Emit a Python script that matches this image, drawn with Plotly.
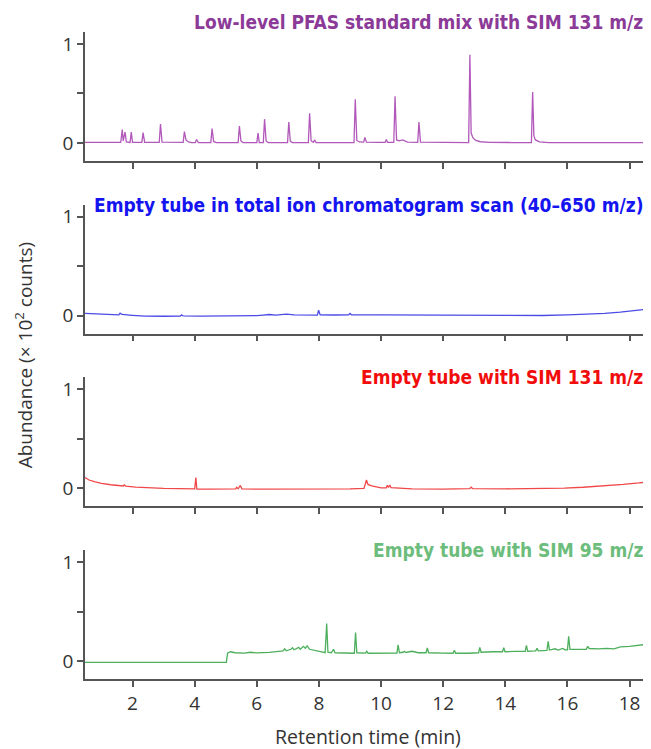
import plotly.graph_objects as go
from plotly.subplots import make_subplots

# retention time (min) / abundance (x 10^2 counts)
pfas_rt = [0.47, 0.90, 1.40, 1.62,
           1.67, 1.70, 1.76, 1.80,
           1.92, 1.96, 2.00,
           2.30, 2.34, 2.39,
           2.86, 2.90, 2.95,
           3.63, 3.67, 3.72, 3.80, 3.90,
           4.02, 4.06, 4.12,
           4.52, 4.56, 4.61, 4.70,
           5.40, 5.44, 5.49, 5.56,
           6.00, 6.04, 6.08,
           6.21, 6.25, 6.30, 6.37,
           6.99, 7.03, 7.08, 7.15,
           7.66, 7.70, 7.75, 7.82, 7.86, 7.91,
           8.40, 9.00, 9.13, 9.17, 9.22, 9.30, 9.44, 9.48, 9.53,
           9.90, 10.13, 10.17, 10.21,
           10.41, 10.45, 10.50, 10.58, 10.70, 10.85,
           11.18, 11.22, 11.27,
           12.00, 12.70, 12.82, 12.86, 12.90, 12.96, 13.05, 13.20, 13.50,
           14.20, 14.84, 14.88, 14.92, 14.97, 15.10, 15.40,
           16.20, 17.00, 17.80, 18.69]
pfas_abund = [0.005, 0.004, 0.003, 0.005,
              0.135, 0.02, 0.11, 0.01,
              0.005, 0.11, 0.005,
              0.005, 0.105, 0.005,
              0.005, 0.19, 0.008,
              0.005, 0.115, 0.03, 0.01, 0.003,
              0.003, 0.035, 0.003,
              0.003, 0.145, 0.015, 0.004,
              0.004, 0.17, 0.02, 0.004,
              0.004, 0.10, 0.004,
              0.004, 0.24, 0.02, 0.004,
              0.004, 0.21, 0.015, 0.004,
              0.004, 0.30, 0.02, 0.006, 0.03, 0.004,
              0.004, 0.005, 0.004, 0.44, 0.025, 0.01, 0.008, 0.055, 0.008,
              0.005, 0.005, 0.035, 0.005,
              0.005, 0.47, 0.03, 0.02, 0.03, 0.008,
              0.006, 0.21, 0.008,
              0.004, 0.004, 0.004, 0.89, 0.10, 0.05, 0.025, 0.012, 0.005,
              0.004, 0.004, 0.515, 0.07, 0.03, 0.01, 0.004,
              0.004, 0.004, 0.003, 0.003]

tic_rt = [0.47, 0.90, 1.40, 1.56, 1.60, 1.66, 2.00, 2.40, 3.00, 3.54, 3.58, 3.63,
          4.20, 5.00, 5.20, 5.70, 6.00, 6.20, 6.40, 6.60, 6.96, 7.20, 7.95, 7.99,
          8.04, 8.50, 8.96, 9.00, 9.05, 10.00, 11.00, 12.50, 13.50, 14.50, 15.20,
          16.00, 16.60, 17.20, 17.70, 18.20, 18.50, 18.69]
tic_abund = [0.024, 0.018, 0.010, 0.009, 0.025, 0.012, 0.003, -0.005, -0.006, -0.004, 0.008, -0.003,
             -0.004, -0.004, 0.000, -0.002, 0.000, 0.006, 0.012, 0.006, 0.016, 0.008, 0.006, 0.055,
             0.008, 0.007, 0.008, 0.022, 0.009, 0.008, 0.007, 0.005, 0.001, 0.000, 0.002,
             0.008, 0.014, 0.024, 0.035, 0.050, 0.064, 0.075]

sim131_rt = [0.47, 0.60, 0.80, 1.00, 1.30, 1.70, 1.73, 1.78, 2.10, 2.50, 3.00, 3.50,
             4.00, 4.04, 4.07, 4.50, 5.00, 5.32, 5.35, 5.40, 5.47, 5.52, 6.00, 7.00,
             8.00, 9.00, 9.45, 9.53, 9.58, 9.70, 9.85, 10.00, 10.17, 10.20, 10.24, 10.28,
             10.32, 10.60, 11.00, 12.00, 12.85, 12.90, 12.95, 14.00, 15.00, 15.90, 16.50,
             17.20, 17.80, 18.30, 18.69]
sim131_abund = [0.110, 0.085, 0.065, 0.050, 0.037, 0.025, 0.035, 0.024, 0.014, 0.006, 0.000, -0.003,
                -0.004, 0.110, -0.008, -0.008, -0.007, -0.005, 0.012, -0.004, 0.030, -0.004, -0.008, -0.008,
                -0.007, -0.004, 0.000, 0.085, 0.040, 0.025, 0.015, 0.006, 0.005, 0.032, 0.010, 0.035,
                0.008, 0.000, -0.005, -0.007, -0.003, 0.012, -0.003, -0.004, -0.002, 0.004, 0.012,
                0.025, 0.040, 0.055, 0.070]

sim95_rt = [0.47, 5.02, 5.06, 5.15, 5.30, 5.60, 5.80, 6.00, 6.40, 6.60, 6.85, 6.90,
            6.95, 7.10, 7.15, 7.20, 7.35, 7.40, 7.50, 7.56, 7.62, 7.70, 7.90, 8.10,
            8.20, 8.25, 8.29, 8.40, 8.47, 8.52, 8.80, 9.14, 9.18, 9.22, 9.50, 9.54,
            9.58, 10.00, 10.51, 10.55, 10.59, 10.71, 10.75, 10.80, 10.99, 11.20, 11.45, 11.49,
            11.53, 12.00, 12.32, 12.36, 12.40, 12.80, 13.14, 13.18, 13.22, 13.60, 13.91, 13.95,
            13.99, 14.30, 14.64, 14.68, 14.72, 14.98, 15.02, 15.06, 15.34, 15.38, 15.42, 15.60,
            15.70, 15.85, 15.92, 16.00, 16.04, 16.08, 16.30, 16.61, 16.65, 16.70, 17.00, 17.26,
            17.50, 17.70, 18.00, 18.30, 18.50, 18.69]
sim95_abund = [-0.012, -0.012, 0.080, 0.095, 0.085, 0.082, 0.090, 0.083, 0.088, 0.095, 0.105, 0.125,
               0.105, 0.120, 0.135, 0.115, 0.140, 0.120, 0.150, 0.130, 0.155, 0.120, 0.105, 0.090,
               0.085, 0.380, 0.090, 0.085, 0.120, 0.085, 0.080, 0.080, 0.290, 0.085, 0.082, 0.100,
               0.080, 0.080, 0.082, 0.165, 0.085, 0.090, 0.100, 0.088, 0.100, 0.085, 0.085, 0.135,
               0.085, 0.082, 0.080, 0.110, 0.080, 0.080, 0.085, 0.140, 0.090, 0.095, 0.095, 0.135,
               0.095, 0.098, 0.100, 0.160, 0.100, 0.105, 0.130, 0.105, 0.110, 0.200, 0.112, 0.125,
               0.112, 0.128, 0.115, 0.115, 0.250, 0.120, 0.120, 0.120, 0.150, 0.128, 0.125, 0.130,
               0.125, 0.145, 0.150, 0.160, 0.165, 0.175]

panel_titles = ["Low-level PFAS standard mix with SIM 131 m/z",
                "Empty tube in total ion chromatogram scan (40\u2013650 m/z)",
                "Empty tube with SIM 131 m/z",
                "Empty tube with SIM 95 m/z"]
x_ticks = [2, 4, 6, 8, 10, 12, 14, 16, 18]

series = [(pfas_rt, pfas_abund), (tic_rt, tic_abund),
          (sim131_rt, sim131_abund), (sim95_rt, sim95_abund)]
line_colors = ["#B158BA", "#4B4BE6", "#F04848", "#4DAF5C"]
title_colors = ["#8C3A98", "#1414F0", "#F20D0D", "#6CBD7B"]

fig = make_subplots(rows=4, cols=1, shared_xaxes=True, vertical_spacing=0.068)

for i, (rt, ab) in enumerate(series):
    fig.add_trace(go.Scatter(x=rt, y=ab, mode="lines",
                             line=dict(color=line_colors[i], width=1.3),
                             showlegend=False), row=i + 1, col=1)

axis_style = dict(showline=True, linecolor="#555", linewidth=1.5,
                  ticks="outside", ticklen=6, tickwidth=1.5, tickcolor="#555",
                  showgrid=False, zeroline=False,
                  tickfont=dict(family="Open Sans", size=19, color="#333"))
fig.update_xaxes(range=[0.47, 18.69], tickvals=x_ticks, **axis_style)
fig.update_yaxes(range=[-0.18, 1.12], tickvals=[0, 0.5, 1], ticktext=["0", "", "1"],
                 **axis_style)

title_font = dict(family="Noto Sans Condensed, DejaVu Sans Condensed, Liberation Sans Narrow, "
                         "Roboto Condensed, Roboto",
                  size=19, weight="bold")
for i, t in enumerate(panel_titles):
    dom = fig.layout["yaxis" + ("" if i == 0 else str(i + 1))].domain
    fig.add_annotation(text=t, xref="paper", yref="paper", x=0.99, y=dom[1],
                       xanchor="right", yanchor="middle", showarrow=False,
                       yshift=10 if i == 0 else 0,
                       font=dict(color=title_colors[i], **title_font))

fig.add_annotation(text="Abundance (\u00d7 10<sup>2</sup> counts)", textangle=-90,
                   xref="paper", yref="paper", x=-0.108, y=0.5,
                   xanchor="center", yanchor="middle", showarrow=False,
                   font=dict(family="Open Sans", size=19, color="#333"))
fig.add_annotation(text="Retention time (min)", xref="paper", yref="paper",
                   x=0.5, y=-0.094, xanchor="center", yanchor="middle", yshift=3,
                   showarrow=False, font=dict(family="Open Sans", size=19.5, color="#333"))

# the page adds an 8 px body margin, so the figure is 8 px smaller each way
fig.update_layout(width=643, height=741,
                  margin=dict(l=77, r=0, t=24, b=70),
                  plot_bgcolor="white", paper_bgcolor="white")

fig.write_html("out.html")
